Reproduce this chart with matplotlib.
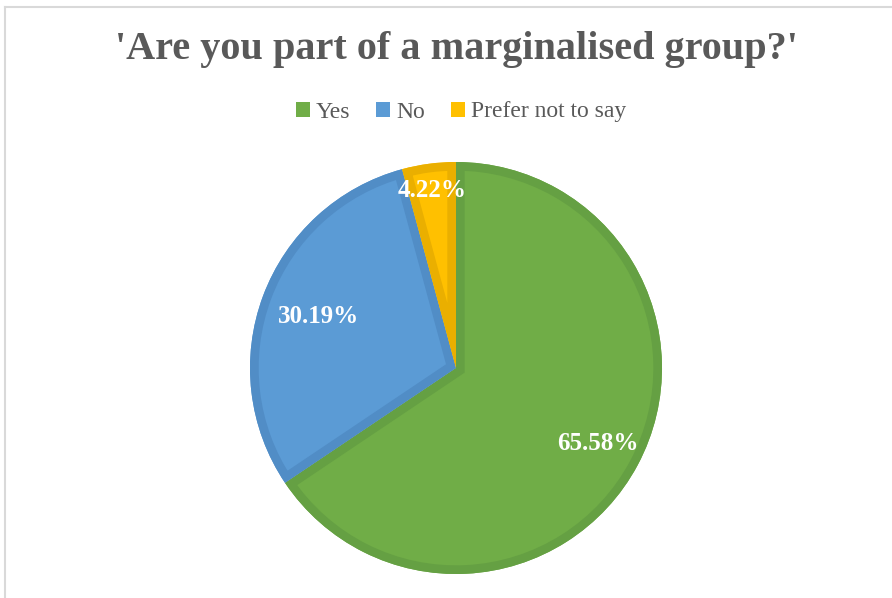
import numpy as np
import matplotlib.pyplot as plt
from matplotlib.lines import Line2D
from matplotlib.patches import Patch, Wedge

labels = ["Yes", "No", "Prefer not to say"]
shares = [65.58, 30.19, 4.22]
fills = ["#70AD47", "#5B9BD5", "#FFC000"]
edges = ["#65A043", "#518DC6", "#EAAF00"]
label_radius = [0.78, 0.71, 0.87]

plt.rcParams['font.family'] = ['Liberation Serif', 'DejaVu Serif']

fig = plt.figure(figsize=(8.92, 5.98), dpi=100)
fig.patch.set_facecolor("white")

# light frame around the chart area (top and left only are visible)
fig.add_artist(Line2D([5 / 892, 5 / 892], [0, 1 - 7 / 598], color="#D9D9D9", lw=1.5))
fig.add_artist(Line2D([5 / 892, 1], [1 - 7 / 598, 1 - 7 / 598], color="#D9D9D9", lw=1.5))

ax = fig.add_axes([250 / 892, 24 / 598, 412 / 892, 412 / 598])
wedges, _ = ax.pie(shares, colors=fills, startangle=90, counterclock=False,
                   radius=1.0, wedgeprops=dict(linewidth=0))
ax.set_xlim(-1, 1)
ax.set_ylim(-1, 1)
ax.set_aspect("equal")
ax.axis("off")

# inner stroke: an outline patch per wedge, clipped to the filled wedge
for w, ec in zip(wedges, edges):
    outline = Wedge(w.center, w.r, w.theta1, w.theta2, fill=False,
                    edgecolor=ec, linewidth=12.5, joinstyle="miter")
    ax.add_patch(outline)
    outline.set_clip_path(w)

for w, val, r in zip(wedges, shares, label_radius):
    mid = np.deg2rad((w.theta1 + w.theta2) / 2)
    ax.text(r * np.cos(mid), r * np.sin(mid), f"{val:.2f}%", ha="center", va="center",
            color="white", fontsize=18, fontweight="bold", zorder=5)

fig.text(456 / 892, 1 - 49 / 598, "'Are you part of a marginalised group?'", ha="center",
         va="center", fontsize=29, fontweight="bold", color="#595959")

handles = [Patch(facecolor=c, edgecolor="none") for c in fills]
fig.legend(handles, labels, loc="center", bbox_to_anchor=(461 / 892, 1 - 112 / 598), ncol=3,
           frameon=False, fontsize=17, labelcolor="#595959", handlelength=0.6, handleheight=0.6,
           handletextpad=0.25, columnspacing=1.1)

fig.savefig("out.png", dpi=100)
